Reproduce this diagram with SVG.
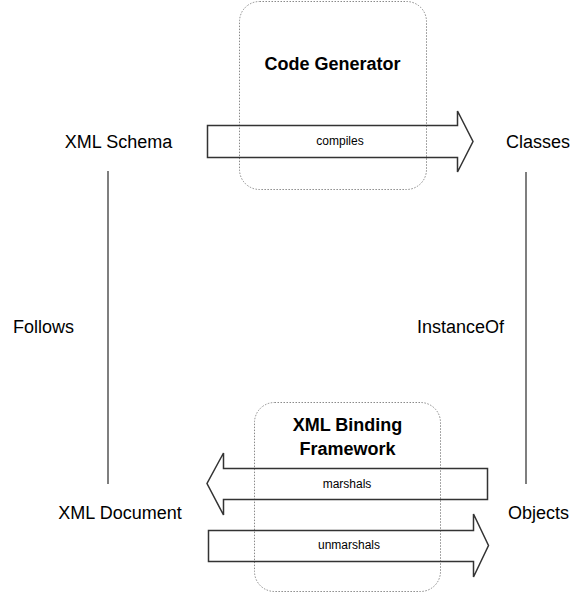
<svg xmlns="http://www.w3.org/2000/svg" width="581" height="594" viewBox="0 0 581 594">
<style>
.lbl{font-family:"Liberation Sans",Arial,sans-serif;font-size:18px;fill:#000;text-anchor:middle}
.big{font-family:"Liberation Sans",Arial,sans-serif;font-size:18px;font-weight:bold;fill:#000;text-anchor:middle}
.sm{font-family:"Liberation Sans",Arial,sans-serif;font-size:12px;fill:#000;text-anchor:middle}
.box{fill:none;stroke:#8a8a8a;stroke-width:1;stroke-dasharray:1.5,1.5}
.arrow{fill:none;stroke:#333;stroke-width:1.5;stroke-linejoin:miter}
.line{stroke:#555;stroke-width:1.5;fill:none}
</style>
<rect width="581" height="594" fill="#fff"/>
<g id="code-generator">
<rect class="box" x="239.5" y="1.5" width="187" height="188" rx="20" ry="20"/>
<text class="big" x="332.5" y="70">Code Generator</text>
</g>
<g id="binding-framework">
<rect class="box" x="254.5" y="402.5" width="186" height="189" rx="20" ry="20"/>
<text class="big" x="347.5" y="431">XML Binding</text>
<text class="big" x="347.5" y="455">Framework</text>
</g>
<g id="xml-schema"><text class="lbl" x="118.5" y="148">XML Schema</text></g>
<g id="classes"><text class="lbl" x="538" y="148">Classes</text></g>
<g id="xml-document"><text class="lbl" x="120" y="519">XML Document</text></g>
<g id="objects"><text class="lbl" x="538.5" y="519">Objects</text></g>
<g id="connectors">
<line class="line" x1="108" y1="171" x2="108" y2="484"/>
<line class="line" x1="526" y1="172" x2="526" y2="484"/>
<text class="lbl" x="43.5" y="333">Follows</text>
<text class="lbl" x="460.5" y="333">InstanceOf</text>
<path class="arrow" d="M207.5,125.5 H457.5 V111 L473,141.5 L457.5,172 V157.5 H207.5 Z"/>
<text class="sm" x="340" y="145">compiles</text>
<path class="arrow" d="M487.5,468.5 H223.5 V453 L207,483.5 L223.5,515 V499.5 H487.5 Z"/>
<text class="sm" x="347" y="488">marshals</text>
<path class="arrow" d="M208.5,530.5 H473.5 V514 L488.5,545.5 L473.5,577 V561.5 H208.5 Z"/>
<text class="sm" x="349" y="549">unmarshals</text>
</g>
</svg>
